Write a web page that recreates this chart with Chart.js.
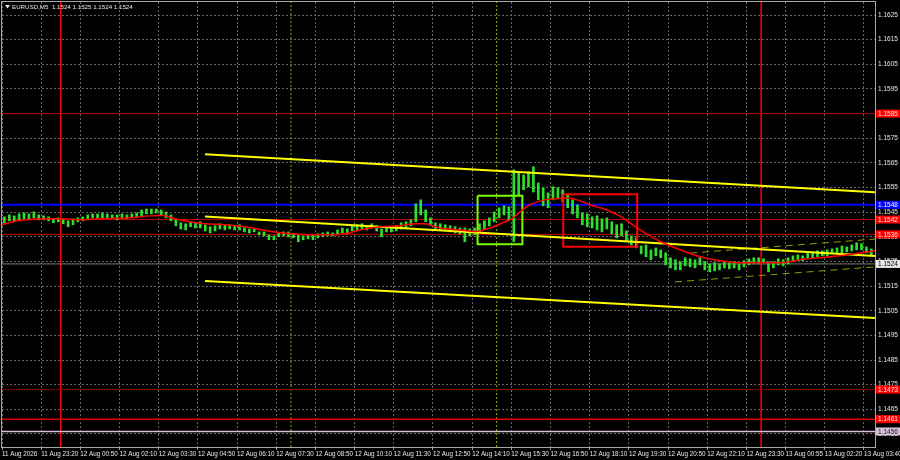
<!DOCTYPE html>
<html>
<head>
<meta charset="utf-8">
<script src="https://cdn.jsdelivr.net/npm/chart.js@4.4.1/dist/chart.umd.min.js"></script>
<style>
    html, body { margin: 0; padding: 0; background: #000; }
    #wrap { width: 900px; height: 460px; }
</style>
</head>
<body>
<div id="wrap"><canvas id="chart"></canvas></div>
<script>
const symbolTitle = 'EURUSD,M5  1.1524 1.1525 1.1524 1.1524';

// x axis is counted in M5 bars from the left edge, one label every 16 bars
const timeLabels = ['11 Aug 2026', '11 Aug 23:20', '12 Aug 00:50', '12 Aug 02:10', '12 Aug 03:30',
    '12 Aug 04:50', '12 Aug 06:10', '12 Aug 07:30', '12 Aug 08:50', '12 Aug 10:10', '12 Aug 11:30',
    '12 Aug 12:50', '12 Aug 14:10', '12 Aug 15:30', '12 Aug 16:50', '12 Aug 18:10', '12 Aug 19:30',
    '12 Aug 20:50', '12 Aug 22:10', '12 Aug 23:30', '13 Aug 00:55', '13 Aug 02:20', '13 Aug 03:40'];
const priceTicks = [1.1455, 1.1465, 1.1475, 1.1485, 1.1495, 1.1505, 1.1515, 1.1525, 1.1535,
    1.1545, 1.1555, 1.1565, 1.1575, 1.1585, 1.1595, 1.1605, 1.1615, 1.1625];

// price bars, one per 10 minutes
const barHigh = [
    1.15431, 1.15439, 1.15435, 1.15443, 1.15447, 1.15443, 1.15451, 1.15439, 1.15435, 1.15431,
    1.15423, 1.15427, 1.15423, 1.15415, 1.15423, 1.15427, 1.15431, 1.15439, 1.15443, 1.15443,
    1.15447, 1.15443, 1.15439, 1.15439, 1.15443, 1.15439, 1.15443, 1.15447, 1.15459, 1.15463,
    1.15463, 1.15463, 1.15459, 1.15451, 1.15439, 1.15423, 1.15407, 1.15403, 1.15411, 1.15407,
    1.15411, 1.15399, 1.15391, 1.15395, 1.15403, 1.15399, 1.15399, 1.15395, 1.15399, 1.15386,
    1.15382, 1.15382, 1.15370, 1.15370, 1.15358, 1.15354, 1.15366, 1.15370, 1.15370, 1.15362,
    1.15358, 1.15354, 1.15358, 1.15358, 1.15362, 1.15366, 1.15370, 1.15366, 1.15378, 1.15386,
    1.15382, 1.15395, 1.15399, 1.15403, 1.15395, 1.15403, 1.15395, 1.15382, 1.15391, 1.15386,
    1.15395, 1.15407, 1.15411, 1.15419, 1.15484, 1.15500, 1.15459, 1.15427, 1.15407, 1.15403,
    1.15399, 1.15395, 1.15391, 1.15386, 1.15386, 1.15382, 1.15386, 1.15403, 1.15415, 1.15427,
    1.15451, 1.15468, 1.15476, 1.15472, 1.15622, 1.15610, 1.15601, 1.15614, 1.15634, 1.15569,
    1.15549, 1.15528, 1.15553, 1.15549, 1.15541, 1.15524, 1.15500, 1.15480, 1.15447, 1.15443,
    1.15431, 1.15435, 1.15423, 1.15427, 1.15411, 1.15399, 1.15403, 1.15374, 1.15354, 1.15346,
    1.15313, 1.15317, 1.15297, 1.15305, 1.15297, 1.15285, 1.15265, 1.15257, 1.15249, 1.15265,
    1.15261, 1.15257, 1.15265, 1.15249, 1.15240, 1.15245, 1.15240, 1.15249, 1.15245, 1.15249,
    1.15240, 1.15253, 1.15261, 1.15265, 1.15265, 1.15261, 1.15249, 1.15249, 1.15261, 1.15257,
    1.15265, 1.15273, 1.15277, 1.15273, 1.15285, 1.15289, 1.15293, 1.15293, 1.15297, 1.15301,
    1.15305, 1.15313, 1.15309, 1.15317, 1.15326, 1.15322, 1.15309, 1.15301];
const barLow = [
    1.15407, 1.15415, 1.15411, 1.15419, 1.15423, 1.15423, 1.15427, 1.15419, 1.15419, 1.15415,
    1.15407, 1.15411, 1.15403, 1.15391, 1.15399, 1.15411, 1.15415, 1.15423, 1.15427, 1.15423,
    1.15427, 1.15427, 1.15423, 1.15419, 1.15423, 1.15423, 1.15427, 1.15431, 1.15435, 1.15443,
    1.15443, 1.15447, 1.15439, 1.15427, 1.15415, 1.15395, 1.15382, 1.15378, 1.15391, 1.15386,
    1.15386, 1.15374, 1.15366, 1.15374, 1.15382, 1.15378, 1.15382, 1.15378, 1.15378, 1.15370,
    1.15366, 1.15370, 1.15358, 1.15354, 1.15338, 1.15338, 1.15350, 1.15354, 1.15350, 1.15346,
    1.15330, 1.15338, 1.15342, 1.15338, 1.15346, 1.15350, 1.15354, 1.15354, 1.15358, 1.15366,
    1.15362, 1.15374, 1.15378, 1.15382, 1.15378, 1.15386, 1.15374, 1.15350, 1.15370, 1.15370,
    1.15374, 1.15382, 1.15386, 1.15395, 1.15411, 1.15439, 1.15411, 1.15395, 1.15382, 1.15378,
    1.15374, 1.15370, 1.15366, 1.15362, 1.15330, 1.15354, 1.15358, 1.15370, 1.15382, 1.15395,
    1.15411, 1.15427, 1.15439, 1.15419, 1.15330, 1.15520, 1.15541, 1.15553, 1.15532, 1.15500,
    1.15476, 1.15468, 1.15500, 1.15504, 1.15492, 1.15468, 1.15443, 1.15427, 1.15399, 1.15391,
    1.15386, 1.15378, 1.15370, 1.15382, 1.15362, 1.15346, 1.15354, 1.15330, 1.15317, 1.15305,
    1.15281, 1.15269, 1.15257, 1.15273, 1.15265, 1.15236, 1.15224, 1.15216, 1.15216, 1.15232,
    1.15228, 1.15224, 1.15236, 1.15216, 1.15208, 1.15212, 1.15216, 1.15224, 1.15220, 1.15224,
    1.15216, 1.15228, 1.15236, 1.15240, 1.15240, 1.15245, 1.15208, 1.15224, 1.15236, 1.15232,
    1.15240, 1.15249, 1.15253, 1.15253, 1.15261, 1.15265, 1.15269, 1.15273, 1.15273, 1.15281,
    1.15281, 1.15285, 1.15289, 1.15293, 1.15297, 1.15297, 1.15285, 1.15277];

// moving average (red)
const maX = [0, 4.5, 10.2, 15.5, 23.7, 31.8, 40, 52.3, 60.4, 65.7, 70.6, 76.8, 82.9, 91.1, 99.2,
    105.3, 111.5, 119.6, 125.8, 133.9, 140.1, 146.2, 154.3, 162.5, 168.6, 172.7, 178.8, 187, 193.1,
    199.3, 205.4, 208.2, 211.5, 215.6, 221.7, 225.8, 230.7, 234.8, 240.1, 247, 253.6, 259.3, 264.6,
    269.9, 278.1, 285, 293.2, 301.4, 309.5, 315.6, 321.8, 325.9, 334, 342.2, 348.3, 356.5];
const maY = [1.15399, 1.15411, 1.15419, 1.15423, 1.15423, 1.15419, 1.15423, 1.15427, 1.15435, 1.15437,
    1.15423, 1.15411, 1.15403, 1.15399, 1.15391, 1.15380, 1.15370, 1.15362, 1.15358, 1.15358,
    1.15362, 1.15378, 1.15391, 1.15395, 1.15403, 1.15403, 1.15386, 1.15378, 1.15372, 1.15386,
    1.15411, 1.15423, 1.15451, 1.15480, 1.15500, 1.15504, 1.15508, 1.15500, 1.15480, 1.15459,
    1.15427, 1.15386, 1.15354, 1.15326, 1.15293, 1.15269, 1.15253, 1.15245, 1.15245, 1.15245,
    1.15249, 1.15257, 1.15265, 1.15273, 1.15281, 1.15293];

// descending channel (yellow)
const channelX = [82.9, 356.5];
const channelUpper = [1.15685, 1.15531];
const channelMiddle = [1.15432, 1.15272];
const channelLower = [1.15171, 1.15021];

// small dashed channel on the right
const dashUpperX = [281, 356.5];
const dashUpper = [1.15284, 1.15341];
const dashLowerX = [274.8, 356.5];
const dashLower = [1.15167, 1.15228];

// horizontal levels with price tags on the axis
const levelPrices = [1.1585, 1.1548, 1.1542, 1.1536, 1.1524, 1.1473, 1.1461, 1.1456];
const levelColors = ['#b00000', '#0000ff', '#c00000', '#c00000', '#7a7a7a', '#8a0000', '#e00000', '#d8bfd8'];
const levelWidths = [1, 2, 1, 1, 1, 1, 1.5, 1.5];
const tagFill = ['#ff0000', '#0000ff', '#ff0000', '#ff0000', '#e8e8e8', '#ff0000', '#ff0000', '#d8bfd8'];
const tagText = ['#ffe8e8', '#ffffff', '#ffe8e8', '#ffe8e8', '#000000', '#ffe8e8', '#ffe8e8', '#202020'];

// day start lines (red) and session lines (green dotted)
const dayStarts = [24, 310];
const sessionStarts = [118, 202];

// boxes: [left bar, right bar, top price, bottom price]
const greenBox = [194.2, 212.5, 1.15517, 1.15320];
const redBox = [229.2, 259.4, 1.15523, 1.15310];

const xMax = 356.5;
const yMin = 1.14497;
const yMax = 1.16303;

Chart.defaults.font.family = '"Liberation Sans", Arial, sans-serif';

function lineSet(xs, ys, color, width, dash, order) {
    return {
        type: 'line',
        data: xs.map((x, i) => ({ x: x, y: ys[i] })),
        borderColor: color,
        borderWidth: width,
        borderDash: dash || [],
        pointRadius: 0,
        fill: false,
        tension: 0,
        order: order,
    };
}

function boxSet(box, color) {
    const [x0, x1, top, bottom] = box;
    return lineSet([x0, x1, x1, x0, x0], [top, top, bottom, bottom, top], color, 2, null, 1);
}

const datasets = [];

datasets.push(Object.assign(lineSet(maX, maY, '#ff0000', 1.5, null, 0), { cubicInterpolationMode: 'monotone' }));
datasets.push(lineSet(channelX, channelUpper, '#ffff00', 2, null, 1));
datasets.push(lineSet(channelX, channelMiddle, '#ffff00', 2, null, 1));
datasets.push(lineSet(channelX, channelLower, '#ffff00', 2, null, 1));
datasets.push(lineSet(dashUpperX, dashUpper, '#9a9a00', 1, [7, 5], 1));
datasets.push(lineSet(dashLowerX, dashLower, '#9a9a00', 1, [7, 5], 1));
datasets.push(boxSet(greenBox, '#7cfc00'));
datasets.push(boxSet(redBox, '#ff0000'));

datasets.push({
    type: 'bar',
    data: barHigh.map((h, i) => ({ x: 2 * i + 1, y: [barLow[i], h] })),
    backgroundColor: '#2ee02e',
    barThickness: 2,
    grouped: false,
    order: 3,
});

levelPrices.forEach((p, i) => {
    datasets.push(lineSet([0, xMax], [p, p], levelColors[i], levelWidths[i], null, 4));
});
dayStarts.forEach(t => {
    datasets.push(lineSet([t, t], [yMin, yMax], '#ff0000', 1.5, null, 4));
});
sessionStarts.forEach(t => {
    datasets.push(lineSet([t, t], [yMin, yMax], '#7cb800', 1, [2, 2], 4));
});

const terminalLook = {
    id: 'terminalLook',
    beforeDraw(chart) {
        const ctx = chart.ctx;
        ctx.save();
        ctx.fillStyle = '#000000';
        ctx.fillRect(0, 0, chart.width, chart.height);
        ctx.restore();
    },
    afterDraw(chart) {
        const { ctx, chartArea } = chart;
        const y = chart.scales.y;
        ctx.save();

        // frame
        ctx.strokeStyle = '#a8a8a8';
        ctx.lineWidth = 1;
        ctx.strokeRect(chartArea.left - 0.5, chartArea.top - 0.5,
            chartArea.right - chartArea.left + 1, chartArea.bottom - chartArea.top + 1);

        // price tags
        ctx.font = '6.5px "Liberation Sans", Arial, sans-serif';
        ctx.textBaseline = 'middle';
        ctx.textAlign = 'left';
        levelPrices.forEach((p, i) => {
            const py = y.getPixelForValue(p);
            ctx.fillStyle = tagFill[i];
            ctx.fillRect(chartArea.right + 1, py - 4, 24, 8);
            ctx.fillStyle = tagText[i];
            ctx.fillText(p.toFixed(4), chartArea.right + 3, py + 0.5);
        });

        // symbol header
        ctx.font = '6.2px "Liberation Sans", Arial, sans-serif';
        ctx.fillStyle = '#e8e8e8';
        ctx.beginPath();
        ctx.moveTo(chartArea.left + 3, chartArea.top + 3);
        ctx.lineTo(chartArea.left + 8, chartArea.top + 3);
        ctx.lineTo(chartArea.left + 5.5, chartArea.top + 6.5);
        ctx.closePath();
        ctx.fill();
        ctx.fillText(symbolTitle, chartArea.left + 10, chartArea.top + 5);
        ctx.restore();
    },
};

new Chart(document.getElementById('chart'), {
    type: 'line',
    data: { datasets: datasets },
    options: {
        responsive: true,
        maintainAspectRatio: false,
        animation: false,
        events: [],
        layout: { padding: { left: 2, top: 2, right: 0, bottom: 0 } },
        plugins: {
            legend: { display: false },
            tooltip: { enabled: false },
        },
        scales: {
            x: {
                type: 'linear',
                min: 0,
                max: xMax,
                offset: false,
                afterBuildTicks: (scale) => {
                    scale.ticks = timeLabels.map((_, i) => ({ value: i * 16 }));
                },
                afterFit: (scale) => {
                    scale.height = 13;
                    scale.paddingLeft = 0;
                    scale.paddingRight = 0;
                },
                grid: {
                    color: '#666666',
                    drawTicks: true,
                    tickLength: 3,
                    tickColor: '#9a9a9a',
                    offset: false,
                },
                border: { display: false, dash: [2, 2] },
                ticks: {
                    autoSkip: false,
                    maxRotation: 0,
                    minRotation: 0,
                    align: 'start',
                    padding: 0,
                    color: '#e8e8e8',
                    font: { size: 6.3 },
                    callback: (value, index) => timeLabels[index],
                },
            },
            y: {
                type: 'linear',
                position: 'right',
                min: yMin,
                max: yMax,
                afterBuildTicks: (scale) => {
                    scale.ticks = priceTicks.map(v => ({ value: v }));
                },
                afterFit: (scale) => {
                    scale.width = 25;
                    scale.paddingTop = 0;
                    scale.paddingBottom = 0;
                },
                grid: {
                    color: '#666666',
                    drawTicks: false,
                },
                border: { display: false, dash: [2, 2] },
                ticks: {
                    padding: 3,
                    color: '#e8e8e8',
                    font: { size: 6.5 },
                    callback: (value) => Number(value).toFixed(4),
                },
            },
        },
    },
    plugins: [terminalLook],
});
</script>
</body>
</html>
